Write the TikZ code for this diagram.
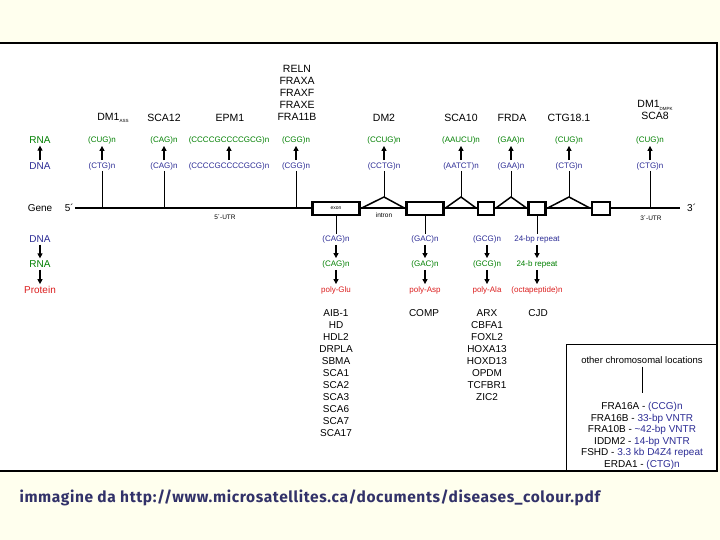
\documentclass[tikz,border=0pt]{standalone}
\usepackage{fontspec}
\setmainfont{Liberation Sans}
\newfontfamily\capfont[LetterSpace=4]{Fira Sans}
\usepackage{tikz}
\usetikzlibrary{arrows.meta,positioning}
\definecolor{dnablue}{RGB}{45,45,150}
\definecolor{rnagreen}{RGB}{0,128,0}
\definecolor{protred}{RGB}{220,30,30}
\definecolor{capnavy}{RGB}{50,50,105}
\definecolor{paper}{RGB}{255,255,238}
\newcommand{\tinysub}[1]{\raisebox{-2.5pt}{\fontsize{4.5}{5}\selectfont #1}}

\begin{document}
\begin{tikzpicture}[x=1pt, y=-1pt,
    gname/.style={font=\fontsize{10.5}{12}\selectfont, inner sep=1pt},
    side/.style={font=\fontsize{10}{12}\selectfont, inner sep=1pt},
    seq/.style={font=\fontsize{8}{9}\selectfont, inner sep=1pt},
    dna/.style={seq, text=dnablue},
    rna/.style={seq, text=rnagreen},
    prot/.style={seq, text=protred},
    small/.style={font=\fontsize{6.5}{7}\selectfont, inner sep=0pt},
    dlist/.style={font=\fontsize{10}{12}\selectfont, inner sep=0pt},
    exonbox/.style={draw, line width=2.5pt, fill=white, minimum height=13pt, inner sep=0pt},
    flow/.style={-{Triangle[length=5pt,width=5pt]}, line width=1.6pt, shorten <=1pt, shorten >=1pt},
    stem/.style={line width=1pt},
    intronline/.style={line width=1.5pt}
  ]
  \useasboundingbox (0,0) rectangle (720,540);
  \fill[paper] (0,0) rectangle (720,540);
  \fill[white] (0,43) rectangle (717,471);
  \draw[line width=1.5pt] (0,43) -- (717,43) -- (717,471) -- (0,471);

  % side labels
  \node[side, text=rnagreen] (lrna) at (40,140) {RNA};
  \node[side, text=dnablue] (ldna) at (40,166) {DNA};
  \draw[flow] (ldna) -- (lrna);
  \node[side] (gene) at (40,208) {Gene};
  \node[side, text=dnablue] (bdna) at (40,239) {DNA};
  \node[side, text=rnagreen] (brna) at (40,264) {RNA};
  \node[side, text=protred] (bprot) at (40,290) {Protein};
  \draw[flow] (bdna) -- (brna);
  \draw[flow] (brna) -- (bprot);

  % gene line with exons and introns
  \coordinate (g0) at (75,208);
  \coordinate (g1) at (680,208);
  \draw[line width=2.5pt] (g0) -- (g1);
  \node[side, left=0pt of g0] (five) {5´};
  \node[side, right=6pt of g1] (three) {3´};
  \node[small] (utr5) at (225,217) {5´-UTR};
  \node[small] (utr3) at (651,218) {3´-UTR};

  \node[exonbox, minimum width=47pt] (ex1) at (336,208.5) {\fontsize{5}{6}\selectfont exon};
  \node[exonbox, minimum width=37pt] (ex2) at (425,208.5) {};
  \node[exonbox, minimum width=16pt] (ex3) at (486,208.5) {};
  \node[exonbox, minimum width=17pt] (ex4) at (537,208.5) {};
  \node[exonbox, minimum width=18pt] (ex5) at (601,208.5) {};
  \coordinate (ap1) at (384,197);
  \coordinate (ap2) at (461,197);
  \coordinate (ap3) at (511,197);
  \coordinate (ap4) at (569,197);
  \draw[intronline] (ex1.east) -- (ap1) -- (ex2.west);
  \draw[intronline] (ex2.east) -- (ap2) -- (ex3.west);
  \draw[intronline] (ex3.east) -- (ap3) -- (ex4.west);
  \draw[intronline] (ex4.east) -- (ap4) -- (ex5.west);
  \node[small] (intr) at (384,215) {intron};

  % repeats above the gene
  \node[gname] (dmas) at (113,118) {DM1\tinysub{ASS}};
  \node[rna] (dmasr) at (102,140) {(CUG)n};
  \node[dna] (dmasd) at (102,166) {(CTG)n};
  \node[gname] (sca12) at (164,118) {SCA12};
  \node[rna] (sca12r) at (164,140) {(CAG)n};
  \node[dna] (sca12d) at (164,166) {(CAG)n};
  \node[gname] (epm1) at (230,118) {EPM1};
  \node[rna] (epm1r) at (229,140) {(CCCCGCCCCGCG)n};
  \node[dna] (epm1d) at (229,166) {(CCCCGCCCCGCG)n};
  \node[gname, align=center] (fra11b) at (297,93) {RELN\\FRAXA\\FRAXF\\FRAXE\\FRA11B};
  \node[rna] (fra11br) at (296,140) {(CGG)n};
  \node[dna] (fra11bd) at (296,166) {(CGG)n};
  \node[gname] (dm2) at (384,118) {DM2};
  \node[rna] (dm2r) at (384,140) {(CCUG)n};
  \node[dna] (dm2d) at (384,166) {(CCTG)n};
  \node[gname] (sca10) at (461,118) {SCA10};
  \node[rna] (sca10r) at (461,140) {(AAUCU)n};
  \node[dna] (sca10d) at (461,166) {(AATCT)n};
  \node[gname] (frda) at (512,118) {FRDA};
  \node[rna] (frdar) at (511,140) {(GAA)n};
  \node[dna] (frdad) at (511,166) {(GAA)n};
  \node[gname] (ctg) at (569,118) {CTG18.1};
  \node[rna] (ctgr) at (569,140) {(CUG)n};
  \node[dna] (ctgd) at (569,166) {(CTG)n};
  \node[gname, align=center] (sca8) at (655,110) {DM1\tinysub{DMPK}\\SCA8};
  \node[rna] (sca8r) at (650,140) {(CUG)n};
  \node[dna] (sca8d) at (650,166) {(CTG)n};

  \foreach \n in {dmas,sca12,epm1,fra11b,dm2,sca10,frda,ctg,sca8}
    \draw[flow] (\n d) -- (\n r);
  \foreach \n in {dmas,sca12,fra11b,sca8}
    \draw[stem] (\n d.south) -- (\n d.south |- g0);
  \draw[stem] (dm2d.south) -- (ap1);
  \draw[stem] (sca10d.south) -- (ap2);
  \draw[stem] (frdad.south) -- (ap3);
  \draw[stem] (ctgd.south) -- (ap4);

  % repeats in the coding region
  \node[dna] (cagd) at (336,239) {(CAG)n};
  \node[rna] (cagr) at (336,264) {(CAG)n};
  \node[prot] (cagp) at (336,290) {poly-Glu};
  \node[dna] (gacd) at (425,239) {(GAC)n};
  \node[rna] (gacr) at (425,264) {(GAC)n};
  \node[prot] (gacp) at (425,290) {poly-Asp};
  \node[dna] (gcgd) at (487,239) {(GCG)n};
  \node[rna] (gcgr) at (487,264) {(GCG)n};
  \node[prot] (gcgp) at (487,290) {poly-Ala};
  \node[dna] (octd) at (537,239) {24-bp repeat};
  \node[rna] (octr) at (537,264) {24-b repeat};
  \node[prot] (octp) at (537,290) {(octapeptide)n};
  \foreach \n in {cag,gac,gcg,oct} {
    \draw[flow] (\n d) -- (\n r);
    \draw[flow] (\n r) -- (\n p);
  }
  \draw[stem] (ex1.south) -- (cagd.north);
  \draw[stem] (ex2.south) -- (gacd.north);
  \draw[stem] (ex4.south) -- (octd.north);

  % diseases
  \foreach \d [count=\i] in {AIB-1,HD,HDL2,DRPLA,SBMA,SCA1,SCA2,SCA3,SCA6,SCA7,SCA17}
    \node[dlist] (cag\i) at (336,301+12*\i) {\d};
  \node[dlist] (comp) at (424,313) {COMP};
  \foreach \d [count=\i] in {ARX,CBFA1,FOXL2,HOXA13,HOXD13,OPDM,TCFBR1,ZIC2}
    \node[dlist] (gcg\i) at (487,301+12*\i) {\d};
  \node[dlist] (cjd) at (538,313) {CJD};

  % other locations
  \draw[line width=1pt] (717,344) -- (566,344) -- (566,471);
  \node[side, font=\fontsize{9.5}{11}\selectfont] (ocl) at (642,360) {other chromosomal locations};
  \node[side] (loc1) at (642,407) {FRA16A - \textcolor{dnablue}{(CCG)n}};
  \node[side] (loc2) at (642,418.5) {FRA16B - \textcolor{dnablue}{33-bp VNTR}};
  \node[side] (loc3) at (642,430) {FRA10B - \textcolor{dnablue}{\textasciitilde42-bp VNTR}};
  \node[side] (loc4) at (642,441.5) {IDDM2 - \textcolor{dnablue}{14-bp VNTR}};
  \node[side] (loc5) at (642,453) {FSHD - \textcolor{dnablue}{3.3 kb D4Z4 repeat}};
  \node[side] (loc6) at (642,464.5) {ERDA1 - \textcolor{dnablue}{(CTG)n}};
  \draw[stem, shorten <=2pt, shorten >=8pt] (ocl.south) -- (loc1.north);

  \node[anchor=west, text=capnavy, font=\capfont\bfseries\fontsize{15.5}{18}\selectfont] (src) at (16,498)
    {immagine da http://www.microsatellites.ca/documents/diseases\_colour.pdf};
\end{tikzpicture}
\end{document}
